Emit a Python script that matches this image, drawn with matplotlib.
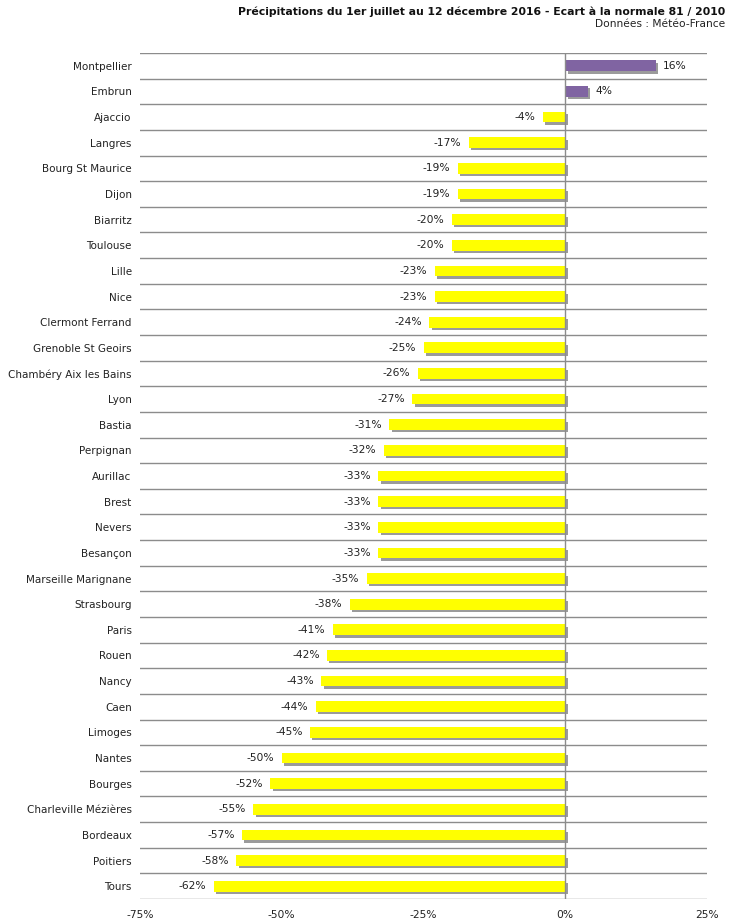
import numpy as np
import matplotlib
matplotlib.use('Agg')
import matplotlib.pyplot as plt
import matplotlib.patheffects as pe

# stations and deviation from normal (%)
stations = ['Montpellier', 'Embrun', 'Ajaccio', 'Langres', 'Bourg St Maurice', 'Dijon',
            'Biarritz', 'Toulouse', 'Lille', 'Nice', 'Clermont Ferrand',
            'Grenoble St Geoirs', 'Chambéry Aix les Bains', 'Lyon', 'Bastia',
            'Perpignan', 'Aurillac', 'Brest', 'Nevers', 'Besançon',
            'Marseille Marignane', 'Strasbourg', 'Paris', 'Rouen', 'Nancy', 'Caen',
            'Limoges', 'Nantes', 'Bourges', 'Charleville Mézières', 'Bordeaux',
            'Poitiers', 'Tours']
ecart = [16, 4, -4, -17, -19, -19, -20, -20, -23, -23, -24, -25, -26, -27, -31,
         -32, -33, -33, -33, -33, -35, -38, -41, -42, -43, -44, -45, -50, -52,
         -55, -57, -58, -62]
xticks = [-75, -50, -25, 0, 25]

plt.rcParams['font.family'] = ['Verdana', 'DejaVu Sans']

fig = plt.figure(figsize=(7.3, 9.22), dpi=100)
ax = fig.add_axes([140 / 730, 23 / 922, 567 / 730, 846 / 922])

n = len(stations)
y = np.arange(n)
colors = ['#8064A2' if v > 0 else '#FFFF00' for v in ecart]
bars = ax.barh(y, ecart, height=0.42, color=colors, zorder=3)
for b in bars:
    b.set_path_effects([pe.SimplePatchShadow(offset=(1.7, -1.7), shadow_rgbFace='#7a7a7a', alpha=0.75),
                        pe.Normal()])

for yi, v in zip(y, ecart):
    if v > 0:
        ax.text(v + 1.3, yi, '%d%%' % v, ha='left', va='center', fontsize=7.7, color='#222222')
    else:
        ax.text(v - 1.3, yi, '%d%%' % v, ha='right', va='center', fontsize=7.7, color='#222222')

# row separators
for g in np.arange(n + 1) - 0.5:
    ax.axhline(g, color='#8c8c8c', lw=1, zorder=1)
ax.axvline(0, color='#8c8c8c', lw=1, zorder=4)

ax.set_xlim(-75, 25)
ax.set_ylim(n - 0.5, -0.5)
ax.set_yticks(y)
ax.set_yticklabels(stations, fontsize=7.5, color='#222222')
ax.set_xticks(xticks)
ax.set_xticklabels(['%d%%' % t for t in xticks], fontsize=7.7, color='#222222')
ax.tick_params(length=0)
ax.tick_params(axis='x', pad=8)
ax.tick_params(axis='y', pad=6)
for s in ax.spines.values():
    s.set_visible(False)

fig.text(725 / 730, 1 - 12 / 922, 'Précipitations du 1er juillet au 12 décembre 2016 - Ecart à la normale 81 / 2010',
         ha='right', va='center', fontsize=7.8, fontweight='bold', color='#111111')
fig.text(725 / 730, 1 - 24 / 922, 'Données : Météo-France', ha='right', va='center',
         fontsize=7.7, color='#222222')

fig.savefig('out.png', dpi=100)
